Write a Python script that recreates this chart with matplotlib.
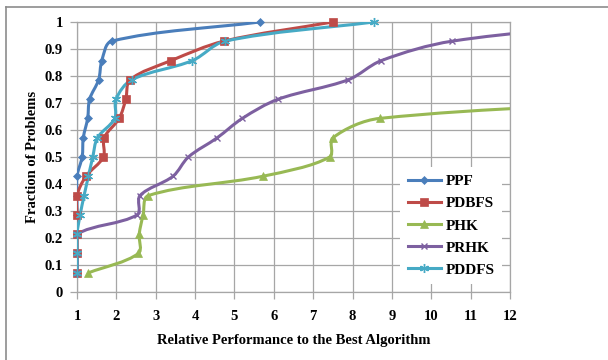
#!/usr/bin/env python3
"""Performance profile: fraction of problems vs relative performance."""
import numpy as np
import matplotlib
matplotlib.use("Agg")
import matplotlib.pyplot as plt
from matplotlib.path import Path
from matplotlib.patches import PathPatch
from matplotlib.lines import Line2D

# fractions of the 14 problems
ppf_x = [1.0, 1.0, 1.0, 1.0, 1.0, 1.0, 1.13, 1.16, 1.27, 1.32, 1.55, 1.63, 1.88, 5.64]
ppf_y = [0.071, 0.143, 0.214, 0.286, 0.357, 0.429, 0.5, 0.571, 0.643, 0.714, 0.786, 0.857, 0.929, 1.0]

pdbfs_x = [1.0, 1.0, 1.0, 1.0, 1.0, 1.23, 1.67, 1.69, 2.07, 2.24, 2.35, 3.39, 4.73, 7.5]
pdbfs_y = [0.071, 0.143, 0.214, 0.286, 0.357, 0.429, 0.5, 0.571, 0.643, 0.714, 0.786, 0.857, 0.929, 1.0]

phk_x = [1.29, 2.56, 2.58, 2.68, 2.81, 5.73, 7.42, 7.5, 8.69, 17.0]
phk_y = [0.071, 0.143, 0.214, 0.286, 0.357, 0.429, 0.5, 0.571, 0.643, 0.714]

prhk_x = [1.0, 1.0, 1.0, 2.53, 2.6, 3.44, 3.83, 4.56, 5.2, 6.11, 7.89, 8.73, 10.53, 15.2]
prhk_y = [0.071, 0.143, 0.214, 0.286, 0.357, 0.429, 0.5, 0.571, 0.643, 0.714, 0.786, 0.857, 0.929, 1.0]

pddfs_x = [1.0, 1.0, 1.0, 1.08, 1.18, 1.29, 1.4, 1.52, 1.96, 1.99, 2.39, 3.93, 4.76, 8.54]
pddfs_y = [0.071, 0.143, 0.214, 0.286, 0.357, 0.429, 0.5, 0.571, 0.643, 0.714, 0.786, 0.857, 0.929, 1.0]

series = [
    ("PPF", ppf_x, ppf_y, "#4A7EBB", "D", 4.5),
    ("PDBFS", pdbfs_x, pdbfs_y, "#BE4B48", "s", 6),
    ("PHK", phk_x, phk_y, "#98B954", "^", 6),
    ("PRHK", prhk_x, prhk_y, "#7D60A0", "x", 5),
    ("PDDFS", pddfs_x, pddfs_y, "#46AAC5", (6, 2, 0), 6.5),
]

# rough screen scale (px per data unit) so smoothing acts on the drawn shape
SX, SY = 39.4, 270.0


def smooth_path(xs, ys):
    # smoothed line: cubic Beziers with tangent arms proportional to segment length
    p = np.column_stack([np.array(xs) * SX, np.array(ys) * SY])
    n = len(p)
    verts = [p[0]]
    codes = [Path.MOVETO]

    def dist(a, b):
        return float(np.hypot(*(b - a)))

    for i in range(n - 1):
        p0 = p[i - 1] if i > 0 else p[i]
        p1, p2 = p[i], p[i + 1]
        p3 = p[i + 2] if i + 2 < n else p[i + 1]
        d01, d12, d23 = dist(p0, p1), dist(p1, p2), dist(p2, p3)
        a = d12 / (d01 + d12) / 3.0 if d01 + d12 > 0 else 0.0
        b = d12 / (d12 + d23) / 3.0 if d12 + d23 > 0 else 0.0
        if i == 0:
            a = 1 / 3.0
        if i + 2 >= n:
            b = 1 / 3.0
        c1 = p1 + (p2 - p0) * a
        c2 = p2 - (p3 - p1) * b
        verts += [c1, c2, p2]
        codes += [Path.CURVE4] * 3
    verts = np.array(verts) / np.array([SX, SY])
    return Path(verts, codes)


plt.rcParams["font.family"] = ["Liberation Serif", "DejaVu Serif"]
plt.rcParams["font.weight"] = "bold"

fig = plt.figure(figsize=(6.08, 3.6), dpi=100)
ax = fig.add_axes([77 / 608, 68 / 360, 433 / 608, 270 / 360])

grid_c = "#A6A6A6"
ax.set_xlim(1, 12)
ax.set_ylim(0, 1)
ax.set_xticks(range(1, 13))
ax.set_yticks(np.round(np.arange(0, 1.01, 0.1), 1))
ax.set_yticklabels(["0", "0.1", "0.2", "0.3", "0.4", "0.5", "0.6", "0.7", "0.8", "0.9", "1"])
ax.grid(True, color=grid_c, lw=0.9)
ax.set_axisbelow(True)
for s in ax.spines.values():
    s.set_color(grid_c)
    s.set_linewidth(0.9)
ax.tick_params(axis="both", colors=grid_c, labelcolor="black", labelsize=10.5,
               length=5, width=0.9, direction="out")
ax.tick_params(axis="x", pad=8)
ax.tick_params(axis="y", pad=5)
for lab in ax.get_xticklabels() + ax.get_yticklabels():
    lab.set_fontweight("bold")

handles = []
for name, xs, ys, col, mk, ms in series:
    patch = PathPatch(smooth_path(xs, ys), fill=False, edgecolor=col, lw=2.2, zorder=3)
    ax.add_patch(patch)
    xa, ya = np.array(xs), np.array(ys)
    keep = xa <= 12
    mew = 1.0 if mk in ("x", (6, 2, 0)) else 0.5
    ax.plot(xa[keep], ya[keep], linestyle="none", marker=mk, ms=ms, color=col,
            mec=col, mew=mew, zorder=4, clip_on=False)
    handles.append(Line2D([], [], color=col, lw=2.2, marker=mk, ms=ms, mec=col, mew=mew))

leg = ax.legend(handles, [s[0] for s in series], loc="lower right",
                bbox_to_anchor=(1.0, 0.0), frameon=True, fancybox=False,
                edgecolor="none", facecolor="white", framealpha=1.0,
                handlelength=2.2, handletextpad=0.3, labelspacing=0.55,
                borderpad=0.5, prop={"size": 11, "weight": "bold"})
leg.set_zorder(5)

ax.set_xlabel("Relative Performance to the Best Algorithm", fontsize=10.5,
              fontweight="bold", labelpad=8)
ax.set_ylabel("Fraction of Problems", fontsize=10.5, fontweight="bold", labelpad=4)

# outer chart frame (left and top edges visible)
fig.add_artist(Line2D([6 / 608, 6 / 608], [0, 353 / 360], color="#8C8C8C", lw=1.2,
                      transform=fig.transFigure))
fig.add_artist(Line2D([6 / 608, 1], [353 / 360, 353 / 360], color="#8C8C8C", lw=1.2,
                      transform=fig.transFigure))

fig.savefig("out.png", dpi=100)
